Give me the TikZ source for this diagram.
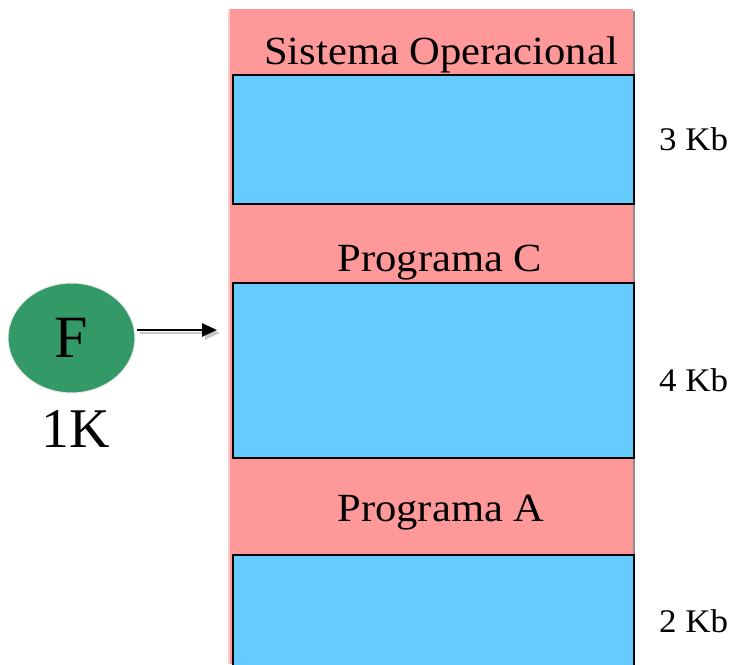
\documentclass[tikz,border=0pt]{standalone}
\usepackage{fontspec}
\setmainfont{Liberation Serif}
\usetikzlibrary{arrows.meta,shapes.geometric}
\definecolor{pinkmem}{HTML}{FF9999}
\definecolor{bluemem}{HTML}{66CCFF}
\definecolor{greenproc}{HTML}{339966}
\tikzset{
  memcol/.style={fill=pinkmem, draw=none},
  freebox/.style={fill=bluemem, draw=black, line width=1.6pt},
  seglabel/.style={anchor=base, inner sep=0pt, xscale=1.065, font=\fontsize{40}{40}\selectfont},
  sizelabel/.style={anchor=base west, inner sep=0pt, xscale=1.06, font=\fontsize{33}{33}\selectfont},
  procnode/.style={ellipse, fill=greenproc, draw=black!8, line width=1pt},
  bigtext/.style={inner sep=0pt, font=\fontsize{60}{60}\selectfont},
  arrowline/.style={line width=2.6pt, -{Triangle[length=15pt,width=13pt]}},
}
\begin{document}
\begin{tikzpicture}[x=1pt,y=1pt]
\useasboundingbox (0,0) rectangle (736,664);
% memory column (y = 664 - pixel row)
\fill[black!45] (632,0) rectangle (634.5,653);
\node[memcol, minimum width=403pt, minimum height=655pt, anchor=south west, inner sep=0pt] (col) at (229.5,0) {};
\fill[pinkmem!50] (227.5,0) rectangle (229.5,655);
% free blocks
\node[freebox, anchor=north west, minimum width=401pt, minimum height=129pt, inner sep=0pt] (free3) at (232,590) {};
\node[freebox, anchor=north west, minimum width=401pt, minimum height=175pt, inner sep=0pt] (free4) at (232,382) {};
\node[freebox, anchor=north west, minimum width=401pt, minimum height=125pt, inner sep=0pt] (free2) at (232,110) {};
% segment labels
\node[seglabel] (so) at (441,599) {Sistema Operacional};
\node[seglabel] (pc) at (440,392) {Programa C};
\node[seglabel] (pa) at (441,142) {Programa A};
% sizes
\node[sizelabel] (s3) at (659,513) {3 Kb};
\node[sizelabel] (s4) at (659,272) {4 Kb};
\node[sizelabel] (s2) at (659,32) {2 Kb};
% process
\node[procnode, minimum width=127pt, minimum height=110pt, inner sep=0pt] (F) at (71.5,326) {};
\node[bigtext] at (F.center) {F};
\node[bigtext, anchor=base, font=\fontsize{56}{56}\selectfont] (oneK) at (76,216) {1K};
% arrow with shadow
\coordinate (tip) at (217,334);
\coordinate (tail) at (137,334);
\draw[arrowline, black!22] ([shift={(3pt,-3pt)}]tail) -- ([shift={(3pt,-3pt)}]tip);
\draw[arrowline, black] (tail) -- (tip);
\end{tikzpicture}
\end{document}
